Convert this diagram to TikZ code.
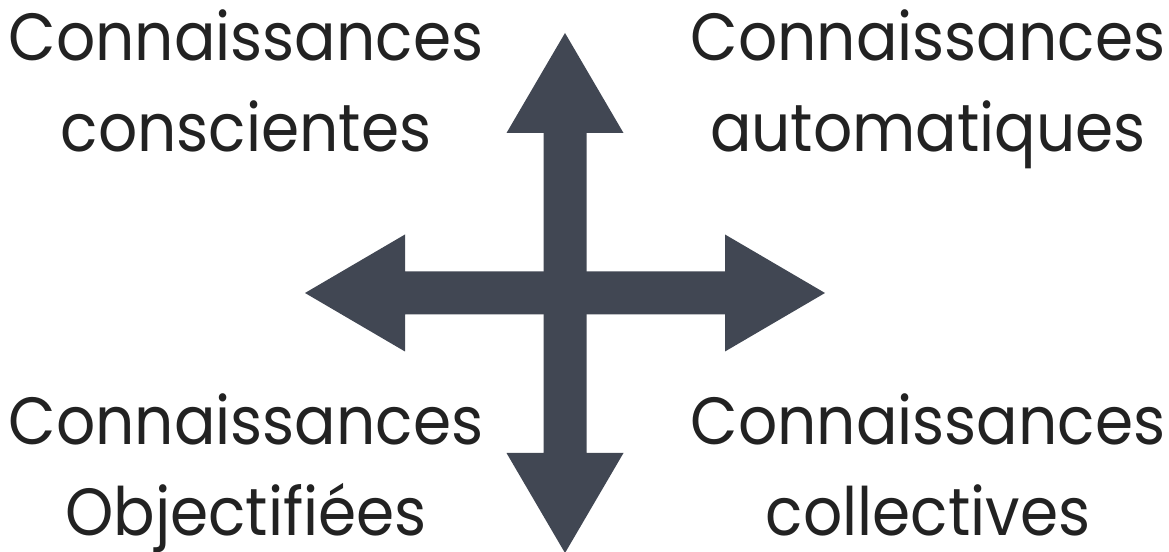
\documentclass[tikz,border=0pt]{standalone}
\usepackage{fontspec}
\setmainfont{Poppins}[FakeStretch=0.92]
\usetikzlibrary{positioning}
\definecolor{crossgray}{HTML}{414753}
\definecolor{labelink}{HTML}{222222}

\tikzset{
  crossfill/.style={fill=crossgray},
  quadlabel/.style={text=labelink, align=center, anchor=base, inner sep=0pt,
    font=\fontsize{19}{26}\selectfont}
}

\begin{document}
\begin{tikzpicture}
\useasboundingbox (0,0) rectangle (11.69,5.52);

% ---------- four-way arrow ----------
\coordinate (c) at (5.65,2.59);
\foreach \a in {0,90,180,270}{
  \fill[crossfill, shift={(c)}, rotate=\a]
    (0,-0.215) -- (1.6,-0.215) -- (1.6,-0.585) -- (2.6,0)
    -- (1.6,0.585) -- (1.6,0.215) -- (0,0.215) -- cycle;
}

% ---------- quadrant labels (anchored on their last baseline) ----------
\node[quadlabel] (conscientes)  at (2.46,4.00) {Connaissances\\conscientes};
\node[quadlabel] (automatiques) at (9.28,4.00) {Connaissances\\automatiques};
\node[quadlabel] (objectifiees) at (2.46,0.16) {Connaissances\\Objectifiées};
\node[quadlabel] (collectives)  at (9.28,0.16) {Connaissances\\collectives};

\end{tikzpicture}
\end{document}
